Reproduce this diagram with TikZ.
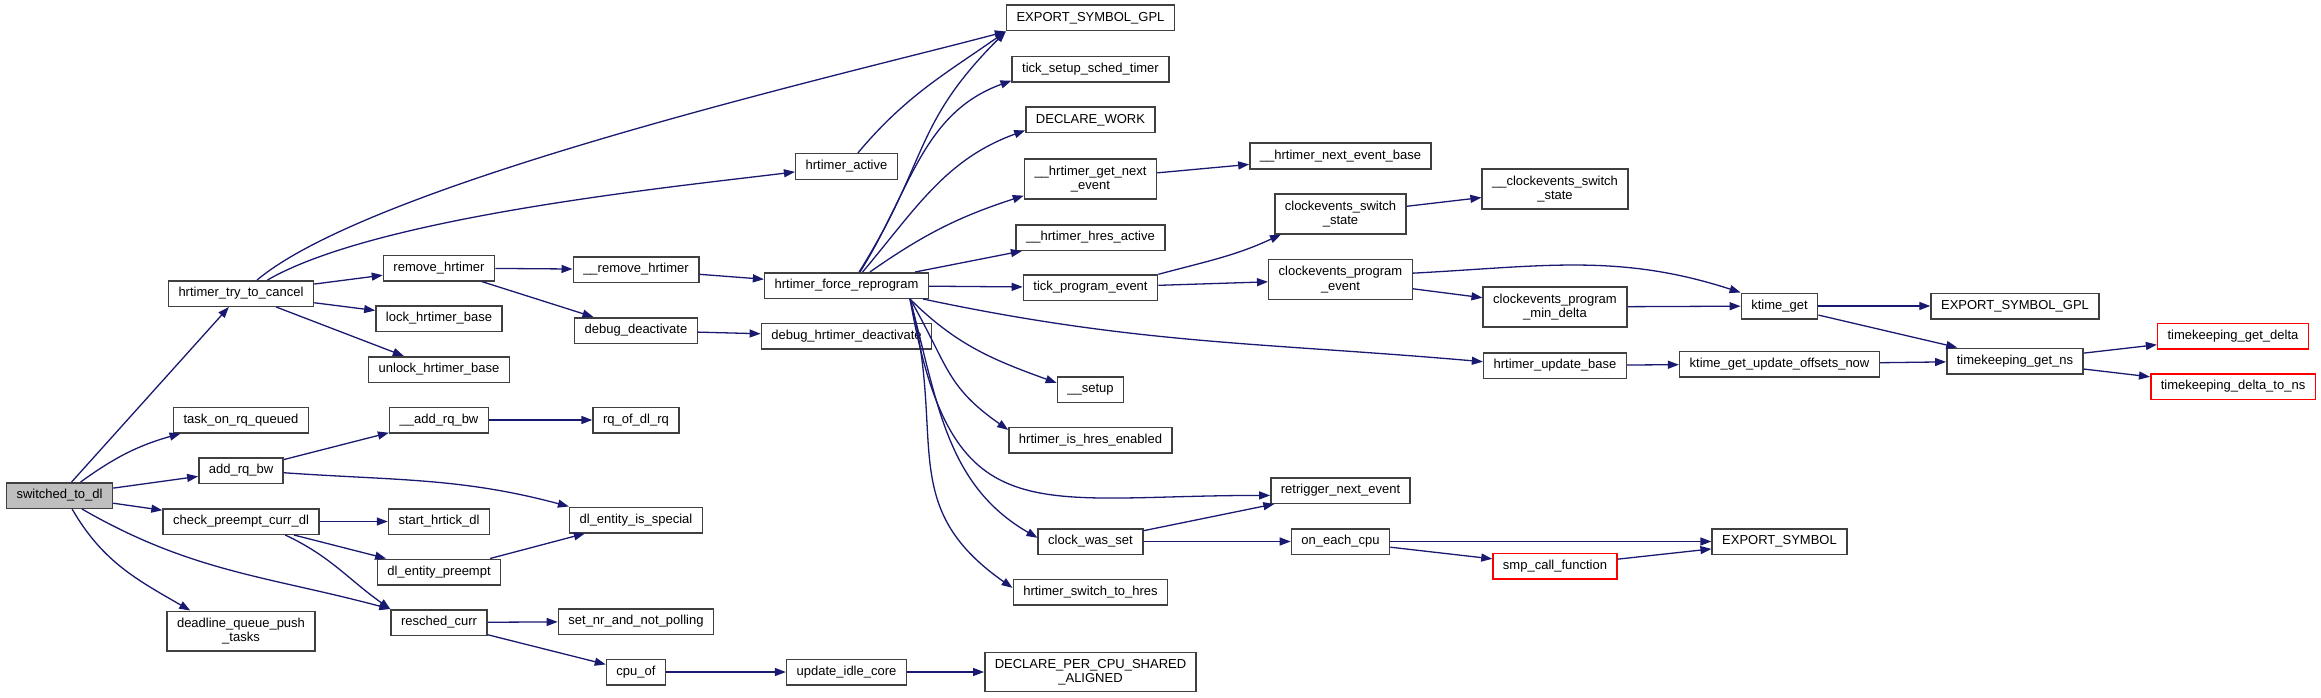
\documentclass[tikz,border=0pt]{standalone}
\usepackage{fontspec}
\setmainfont{Liberation Sans}
\usepackage{xcolor}
\usepackage{tikz}
\usetikzlibrary{arrows.meta}

\definecolor{callblue}{RGB}{25,25,112}
\definecolor{boxgray}{RGB}{64,64,64}

\begin{document}
\begin{tikzpicture}[x=1pt,y=-1pt,
  fn/.style={draw=boxgray,line width=1.5pt,fill=white,align=center,
    font=\fontsize{13}{14.5}\selectfont,inner xsep=10pt,inner ysep=6.5pt,
    minimum height=25.5pt},
  root/.style={fn,fill=black!25},
  ext/.style={fn,draw=red},
  call/.style={callblue,line width=1.3pt,-{Triangle[length=11pt,width=8pt]}}]
  \useasboundingbox (0,0) rectangle (2321,698);

  % Caller
  \node[root] (sw) at (59.5,495.5) {switched\_to\_dl};

  % First level
  \node[fn] (htc)  at (241,293.5) {hrtimer\_try\_to\_cancel};
  \node[fn] (torq) at (241,420)   {task\_on\_rq\_queued};
  \node[fn] (arb)  at (241,470.5) {add\_rq\_bw};
  \node[fn] (cpcd) at (241,521.5) {check\_preempt\_curr\_dl};
  \node[fn] (dqpt) at (241,631)   {deadline\_queue\_push\\\_tasks};

  % Second level
  \node[fn] (rmh)  at (439,268)   {remove\_hrtimer};
  \node[fn] (lhb)  at (439,318.5) {lock\_hrtimer\_base};
  \node[fn] (uhb)  at (439,369.5) {unlock\_hrtimer\_base};
  \node[fn] (aarb) at (439,420)   {\_\_add\_rq\_bw};
  \node[fn] (shd)  at (439,521.5) {start\_hrtick\_dl};
  \node[fn] (dlep) at (439,572)   {dl\_entity\_preempt};
  \node[fn] (rc)   at (439,622.5) {resched\_curr};

  % Third level
  \node[fn] (irmh)  at (636,269.5) {\_\_remove\_hrtimer};
  \node[fn] (dd)    at (636,330.5) {debug\_deactivate};
  \node[fn] (rqof)  at (636,420)   {rq\_of\_dl\_rq};
  \node[fn] (dlis)  at (636,520)   {dl\_entity\_is\_special};
  \node[fn] (snp)   at (636,621.5) {set\_nr\_and\_not\_polling};
  \node[fn] (cpuof) at (636,672)   {cpu\_of};

  % Fourth level
  \node[fn] (ha)  at (846.5,166.5) {hrtimer\_active};
  \node[fn] (frp) at (846.5,285.5) {hrtimer\_force\_reprogram};
  \node[fn] (dhd) at (846.5,336)   {debug\_hrtimer\_deactivate};
  \node[fn] (uic) at (846.5,672)   {update\_idle\_core};

  % Fifth level
  \node[fn] (esg)   at (1090.5,18)    {EXPORT\_SYMBOL\_GPL};
  \node[fn] (tsst)  at (1090.5,69.5)  {tick\_setup\_sched\_timer};
  \node[fn] (dw)    at (1090.5,120)   {DECLARE\_WORK};
  \node[fn] (hgne)  at (1090.5,179)   {\_\_hrtimer\_get\_next\\\_event};
  \node[fn] (hha)   at (1090.5,237.5) {\_\_hrtimer\_hres\_active};
  \node[fn] (tpe)   at (1090.5,287.5) {tick\_program\_event};
  \node[fn] (setup) at (1090.5,389.5) {\_\_setup};
  \node[fn] (hihe)  at (1090.5,440)   {hrtimer\_is\_hres\_enabled};
  \node[fn] (cws)   at (1090.5,541.5) {clock\_was\_set};
  \node[fn] (hsth)  at (1090.5,592)   {hrtimer\_switch\_to\_hres};
  \node[fn] (dpcsa) at (1090.5,672)   {DECLARE\_PER\_CPU\_SHARED\\\_ALIGNED};

  % Sixth level
  \node[fn] (hneb) at (1340.5,156)   {\_\_hrtimer\_next\_event\_base};
  \node[fn] (css)  at (1340.5,214)   {clockevents\_switch\\\_state};
  \node[fn] (cpe)  at (1340.5,279.5) {clockevents\_program\\\_event};
  \node[fn] (rne)  at (1340.5,490.5) {retrigger\_next\_event};
  \node[fn] (oec)  at (1340.5,541.5) {on\_each\_cpu};

  % Seventh level
  \node[fn]  (ccss) at (1555,189)   {\_\_clockevents\_switch\\\_state};
  \node[fn]  (cpmd) at (1555,307)   {clockevents\_program\\\_min\_delta};
  \node[fn]  (hub)  at (1555,365.5) {hrtimer\_update\_base};
  \node[ext] (scf)  at (1555,566)   {smp\_call\_function};

  % Last levels
  \node[fn]  (kg)    at (1779.5,306)   {ktime\_get};
  \node[fn]  (kguon) at (1779.5,364)   {ktime\_get\_update\_offsets\_now};
  \node[fn]  (es)    at (1779.5,541.5) {EXPORT\_SYMBOL};
  \node[fn]  (esg2)  at (2015,306)     {EXPORT\_SYMBOL\_GPL};
  \node[fn]  (tgn)   at (2015,361)     {timekeeping\_get\_ns};
  \node[ext] (tgd)   at (2233,336)     {timekeeping\_get\_delta};
  \node[ext] (tdtn)  at (2233,386.5)   {timekeeping\_delta\_to\_ns};

  % Straight calls
  \foreach \a/\b in {sw/htc, sw/arb, sw/cpcd, htc/rmh, htc/lhb, htc/uhb,
      rmh/irmh, rmh/dd, irmh/frp, dd/dhd, frp/hha, frp/tpe, hgne/hneb,
      tpe/cpe, css/ccss, cpe/cpmd, cpmd/kg, kg/esg2, kg/tgn, hub/kguon,
      kguon/tgn, tgn/tgd, tgn/tdtn, cws/rne, cws/oec, oec/es, oec/scf,
      scf/es, arb/aarb, aarb/rqof, cpcd/shd, cpcd/dlep, dlep/dlis,
      rc/snp, rc/cpuof, cpuof/uic, uic/dpcsa}
    \draw[call] (\a) -- (\b);

  % Curved calls from switched_to_dl
  \draw[call] (sw) to[bend left=10] (torq);
  \draw[call] (sw.-31) to[out=-30,in=165] (rc.north west);
  \draw[call] (sw.-47) to[out=-60,in=150] (dqpt.158);

  % Curved calls on the hrtimer side
  \draw[call] (htc.40) to[out=40,in=195,looseness=0.5] (esg.south west);
  \draw[call] (htc.27) to[out=30,in=187,looseness=0.6] (ha.-174);
  \draw[call] (ha.50) to[out=50,in=215] (esg.south west);
  \draw[call] (frp.47) to[out=58,in=225,looseness=1.2] (esg.south west);
  \draw[call] (frp.45) to[out=58,in=200] (tsst.188);
  \draw[call] (frp.40) to[out=50,in=200] (dw.189);
  \draw[call] (frp.30) to[out=35,in=198] (hgne.194);
  \draw[call] (frp.-10) to[out=-12,in=175] (hub.177);
  \draw[call] (frp.-12) to[out=-45,in=160] (setup.169);
  \draw[call] (frp.-12) to[out=-60,in=145,looseness=1.2] (hihe.173);
  \draw[call] (frp.-12) to[out=-80,in=180,looseness=1.5] (rne.184);
  \draw[call] (frp.-12) to[out=-75,in=150] (cws.176);
  \draw[call] (frp.-12) to[out=-75,in=145,looseness=1.2] (hsth.177);
  \draw[call] (tpe.11) to[out=15,in=205] (css.199);
  \draw[call] (cpe.5) to[out=3,in=162] (kg.north west);

  % Curved calls on the deadline side
  \draw[call] (arb.-3) to[out=-4,in=165] (dlis.north west);
  \draw[call] (cpcd.-17) to[out=-25,in=145] (rc.north west);
\end{tikzpicture}
\end{document}
